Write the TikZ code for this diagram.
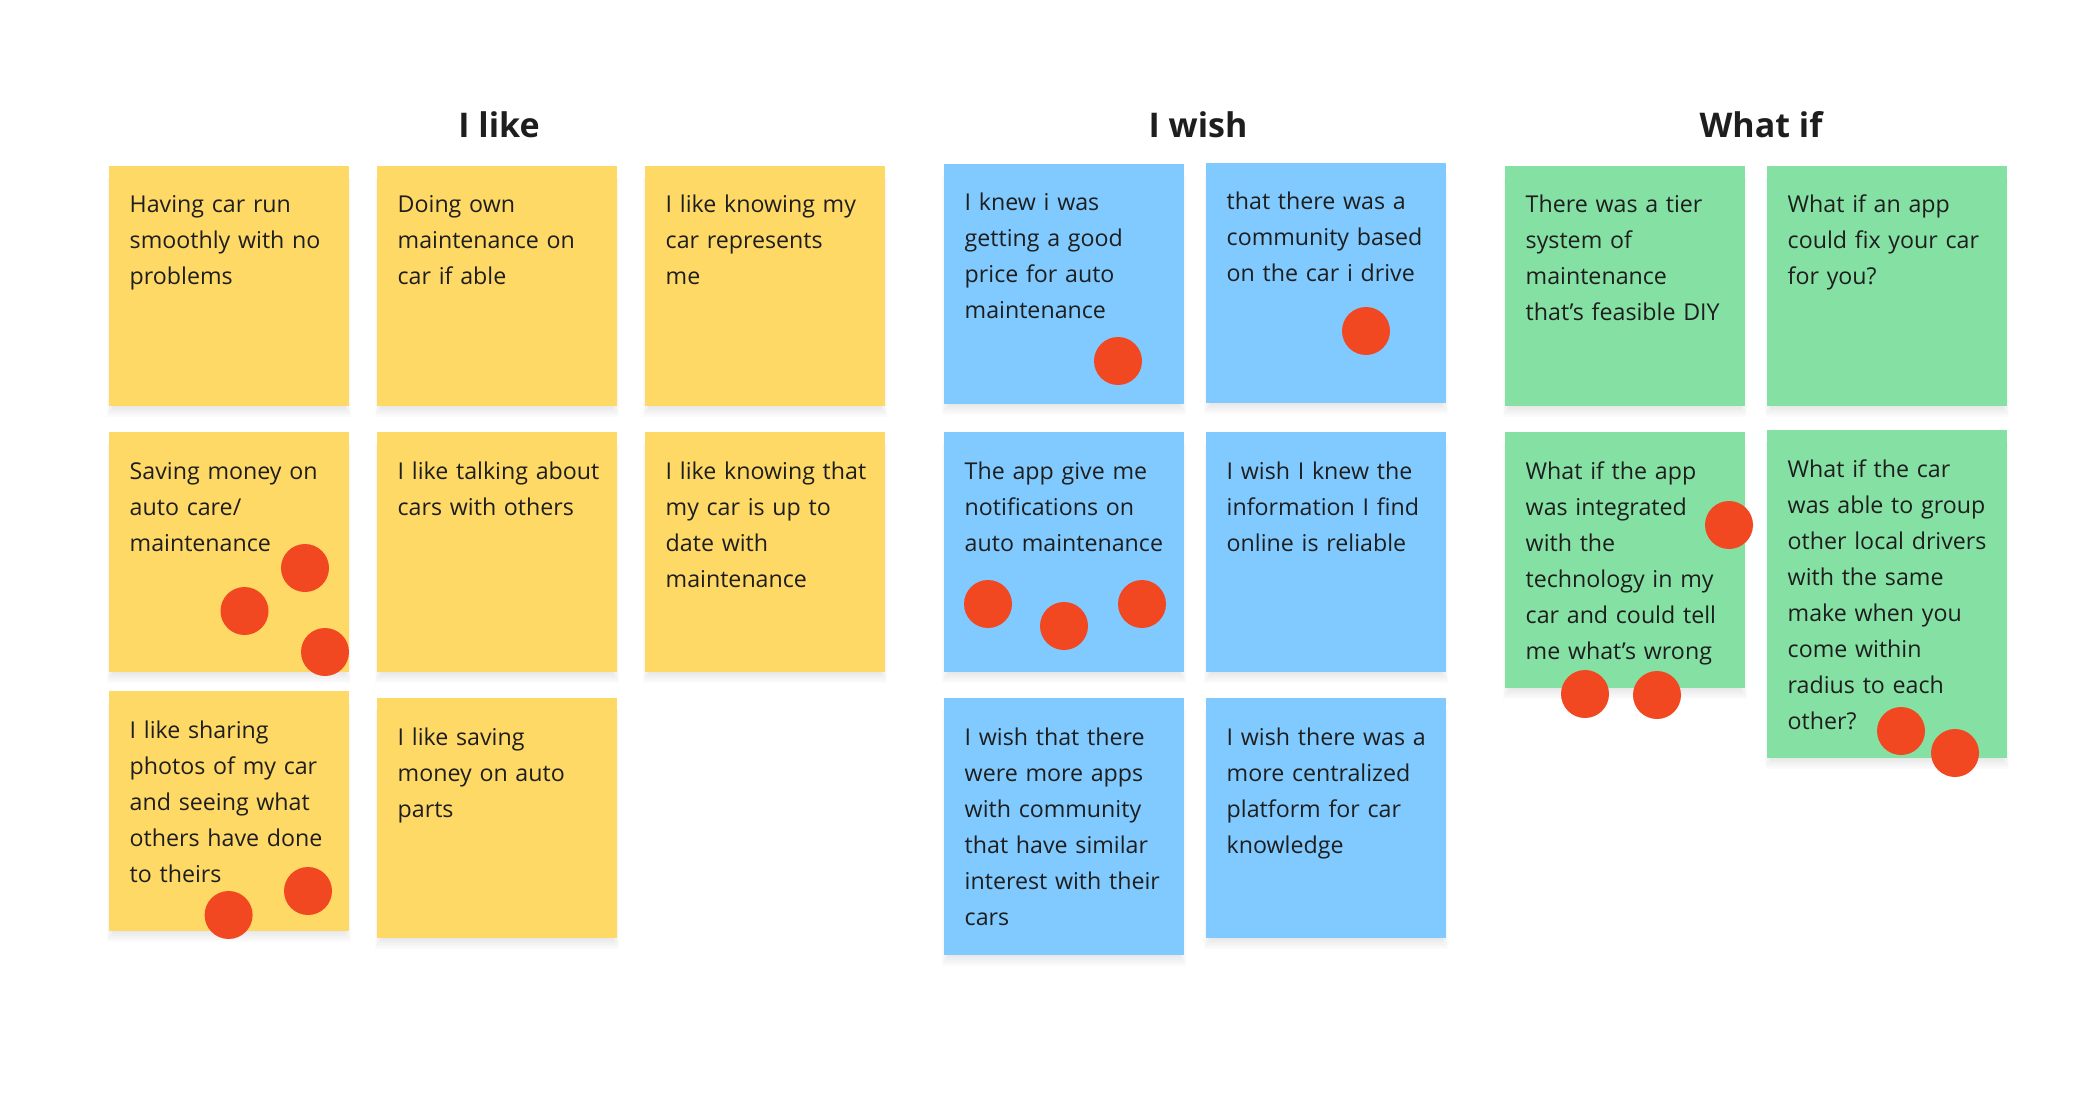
\documentclass[tikz,border=0pt]{standalone}
\usepackage{fontspec}
\setmainfont{Open Sans}
\usetikzlibrary{calc}
\definecolor{stY}{HTML}{FFD966}
\definecolor{stB}{HTML}{80CAFF}
\definecolor{stG}{HTML}{85E0A3}
\definecolor{dotR}{HTML}{F24822}
\definecolor{ink}{HTML}{1E1E1E}
\tikzset{
  sticky/.style={rectangle, draw=none, fill=#1, minimum width=240pt, inner sep=0pt, anchor=north west},
  stext/.style={anchor=base west, inner sep=0pt, text width=300pt, align=left, text=ink, font=\fontsize{23.2}{36}\selectfont},
  vote/.style={circle, fill=dotR, minimum size=48pt, inner sep=0pt},
  ttl/.style={anchor=base, inner sep=0pt, text=ink, font=\fontsize{34}{40}\selectfont\bfseries},
}
% name, x, y(top, downward), height, colour, text
\newcommand\stickynote[6]{%
  \foreach \e in {0,2,...,10}{\fill[black,opacity=0.016] (#2+4-\e*0.6,-#3-12) rectangle (#2+236+\e*0.6,-#3-#4-1-\e);}
  \node[sticky=#5, minimum height=#4pt] (#1) at (#2,-#3) {};
  \node[stext] (#1t) at ($(#1.north west)+(20.5,-47)$) {#6};
}
\begin{document}
\begin{tikzpicture}[x=1pt,y=1pt]
\fill[white] (0,0) rectangle (2093,-1107);
\useasboundingbox (0,0) rectangle (2093,-1107);

\node[ttl] (tlike) at (499,-138) {I like};
\node[ttl] (twish) at (1198,-138) {I wish};
\node[ttl] (twhat) at (1761,-138) {What if};

% I like
\stickynote{y1}{109}{166}{240}{stY}{Having car run\\smoothly with no\\problems}
\stickynote{y2}{377}{166}{240}{stY}{Doing own\\maintenance on\\car if able}
\stickynote{y3}{645}{166}{240}{stY}{I like knowing my\\car represents\\me}
\stickynote{y4}{109}{432}{240}{stY}{Saving money on\\auto care/\\maintenance}
\stickynote{y5}{377}{432}{240}{stY}{I like talking about\\cars with others}
\stickynote{y6}{645}{432}{240}{stY}{I like knowing that\\my car is up to\\date with\\maintenance}
\stickynote{y7}{109}{691}{240}{stY}{I like sharing\\photos of my car\\and seeing what\\others have done\\to theirs}
\stickynote{y8}{377}{698}{240}{stY}{I like saving\\money on auto\\parts}

% I wish
\stickynote{b1}{944}{164}{240}{stB}{I knew i was\\getting a good\\price for auto\\maintenance}
\stickynote{b2}{1206}{163}{240}{stB}{that there was a\\community based\\on the car i drive}
\stickynote{b3}{944}{432}{240}{stB}{The app give me\\notifications on\\auto maintenance}
\stickynote{b4}{1206}{432}{240}{stB}{I wish I knew the\\information I find\\online is reliable}
\stickynote{b5}{944}{698}{256.5}{stB}{I wish that there\\were more apps\\with community\\that have similar\\interest with their\\cars}
\stickynote{b6}{1206}{698}{240}{stB}{I wish there was a\\more centralized\\platform for car\\knowledge}

% What if
\stickynote{g1}{1505}{166}{240}{stG}{There was a tier\\system of\\maintenance\\that’s feasible DIY}
\stickynote{g2}{1767}{166}{240}{stG}{What if an app\\could fix your car\\for you?}
\stickynote{g3}{1505}{432}{256}{stG}{What if the app\\was integrated\\with the\\technology in my\\car and could tell\\me what’s wrong}
\stickynote{g4}{1767}{430}{328}{stG}{What if the car\\was able to group\\other local drivers\\with the same\\make when you\\come within\\radius to each\\other?}

% votes
\node[vote] (v1) at (305,-568) {};
\node[vote] (v2) at (244.5,-611) {};
\node[vote] (v3) at (325,-652) {};
\node[vote] (v4) at (308,-891) {};
\node[vote] (v5) at (228.6,-915) {};
\node[vote] (v6) at (1118,-361) {};
\node[vote] (v7) at (1366,-331) {};
\node[vote] (v8) at (988,-604) {};
\node[vote] (v9) at (1064,-626) {};
\node[vote] (v10) at (1142,-604) {};
\node[vote] (v11) at (1729,-525) {};
\node[vote] (v12) at (1585,-694) {};
\node[vote] (v13) at (1657,-695) {};
\node[vote] (v14) at (1901,-731) {};
\node[vote] (v15) at (1955,-753) {};
\end{tikzpicture}
\end{document}
